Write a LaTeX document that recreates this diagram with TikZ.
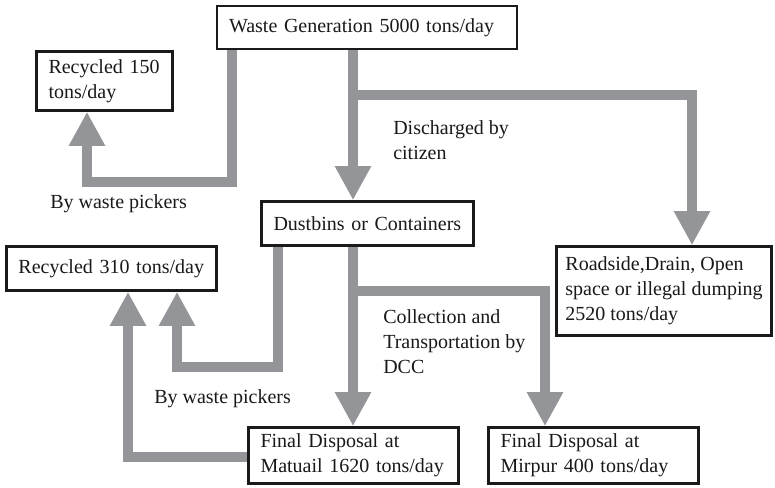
\documentclass[tikz,border=0pt]{standalone}
\usepackage{fontspec}
\setmainfont{Liberation Serif}
\usetikzlibrary{arrows.meta}
\definecolor{flowgray}{HTML}{939598}
\definecolor{boxline}{HTML}{1A1A1A}
\begin{document}
\begin{tikzpicture}[x=0.75pt,y=-0.75pt,
  every node/.style={font=\fontsize{15pt}{18.75pt}\selectfont, text=black!90},
  box/.style={draw=boxline, line width=2pt, fill=white, align=left,
    inner xsep=9pt, inner ysep=0pt},
  lbl/.style={align=left, inner sep=0pt, anchor=west},
  flow/.style={draw=flowgray, line width=7.5pt, line join=miter,
    -{Triangle[width=25.5pt,length=25.5pt]}}]
\useasboundingbox (0,0) rectangle (775,488);
\fill[white] (0,0) rectangle (775,488);

% elbow points of the flows
\coordinate (p1) at (232,182);
\coordinate (p2) at (87,182);
\coordinate (p3) at (353,95);
\coordinate (p4) at (692,95);
\coordinate (p5) at (278,367);
\coordinate (p6) at (177,367);
\coordinate (p7) at (353,291);
\coordinate (p8) at (545,291);
\coordinate (p9) at (128,457);

% boxes
\node[box, text width=207pt, minimum height=32.25pt] (wg) at (367,27.5)
  {Waste Generation 5000 tons/day};
\node[box, text width=84pt, minimum height=44.25pt] (r150) at (104.5,81)
  {Recycled 150\\tons/day};
\node[box, text width=141pt, minimum height=33pt] (dust) at (367.5,223.5)
  {Dustbins or Containers};
\node[box, text width=139.5pt, minimum height=33pt] (r310) at (111.5,268.5)
  {Recycled 310 tons/day};
\node[box, inner xsep=0pt, minimum width=161.25pt, minimum height=66.75pt] (road) at (664,291)
  {Roadside,Drain, Open\\space or illegal dumping\\2520 tons/day};
\node[box, text width=139.5pt, minimum height=42pt] (mat) at (353.5,455.5)
  {Final Disposal at\\Matuail 1620 tons/day};
\node[box, text width=139.5pt, minimum height=42pt] (mir) at (593.5,455.5)
  {Final Disposal at\\Mirpur 400 tons/day};

% flows
\draw[flow] (wg.south -| p1) -- (p1) -- (p2) -- (r150.south -| p2);
\draw[flow] (wg.south -| p3) -- (dust.north -| p3);
\draw[flow] (p3) -- (p4) -- (road.north -| p4);
\draw[flow] (dust.south -| p5) -- (p5) -- (p6) -- (r310.south -| p6);
\draw[flow] (dust.south -| p7) -- (mat.north -| p7);
\draw[flow] (p7) -- (p8) -- (mir.north -| p8);
\draw[flow] (mat.west |- p9) -- (p9) -- (r310.south -| p9);

% flow labels
\node[lbl] (pick1) at (50,204) {By waste pickers};
\node[lbl] (disc) at (393,140.5) {Discharged by\\citizen};
\node[lbl] (pick2) at (154,399) {By waste pickers};
\node[lbl] (coll) at (383,342) {Collection and\\Transportation by\\DCC};
\end{tikzpicture}
\end{document}
